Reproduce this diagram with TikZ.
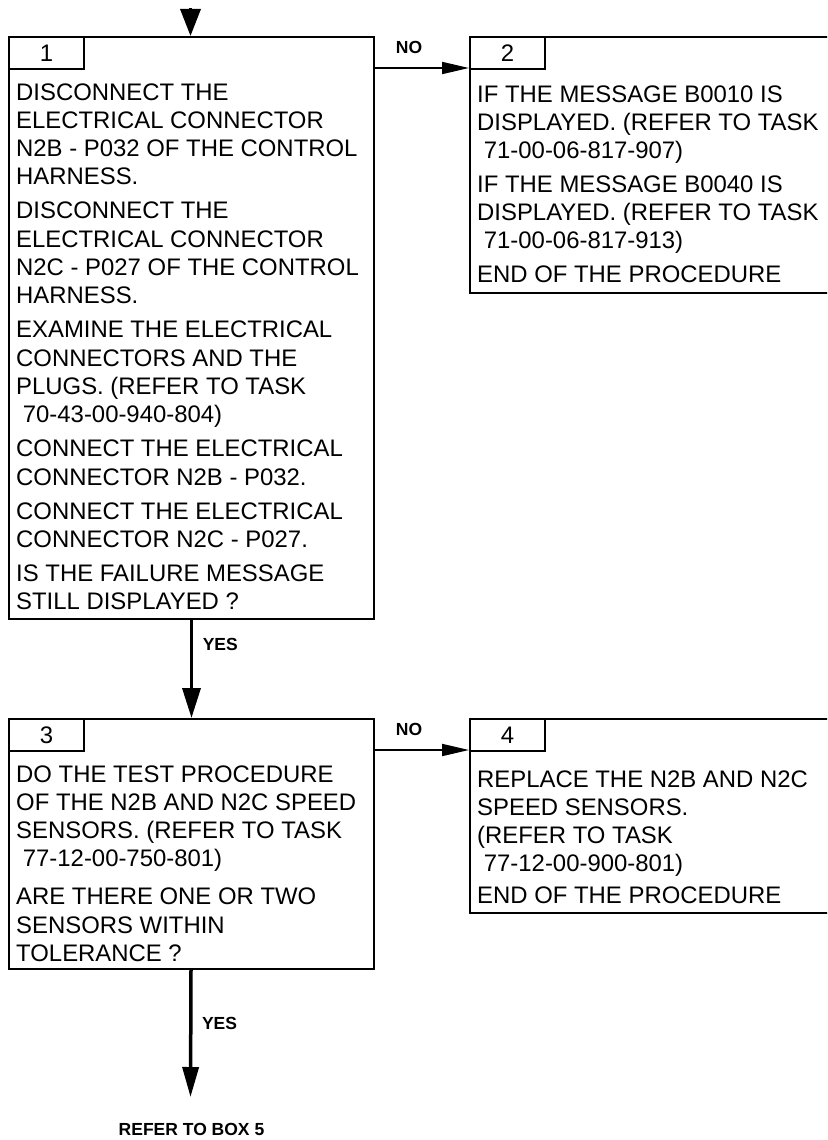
\documentclass[tikz,border=0pt]{standalone}
\usepackage{fontspec}
\setmainfont{Liberation Sans}
\usetikzlibrary{arrows.meta}
\newcommand\bodyfont{\fontsize{23.9}{28.3}\selectfont}
\newcommand\tagfont{\fontsize{17.5}{20}\selectfont\bfseries}
\newcommand\ind{\hspace*{0.28em}}
\begin{document}
\begin{tikzpicture}[x=1pt,y=-1pt,
  box/.style={draw, line width=2pt, rectangle, inner sep=0pt, anchor=north west},
  cell/.style={draw, line width=2pt, rectangle, inner sep=0pt, anchor=north west,
    minimum width=75pt, minimum height=32pt, font=\bodyfont},
  body/.style={anchor=base west, inner sep=0pt, font=\bodyfont},
  tag/.style={inner sep=0pt, font=\tagfont},
  flow/.style={line width=3.5pt, -{Triangle[length=30pt,width=18pt]}},
  side/.style={line width=1.8pt, -{Triangle[length=27pt,width=12pt]}},
]
\useasboundingbox (0,0) rectangle (827,1140);
\clip (0,0) rectangle (827,1140);

% step boxes
\node[box, minimum width=365pt, minimum height=582pt] (b1) at (8,36) {};
\node[box, minimum width=380pt, minimum height=256pt] (b2) at (469,36) {};
\node[box, minimum width=365pt, minimum height=250pt] (b3) at (8,718) {};
\node[box, minimum width=380pt, minimum height=194pt] (b4) at (469,718) {};

% step numbers
\node[cell] (n1) at (8,36) {1};
\node[cell] (n2) at (469,36) {2};
\node[cell] (n3) at (8,718) {3};
\node[cell] (n4) at (469,718) {4};

% step texts
\node[body] (t1) at (16,100) {\begin{tabular}[t]{@{}l@{}}
DISCONNECT THE\\
ELECTRICAL CONNECTOR\\
N2B - P032 OF THE CONTROL\\
HARNESS.\\[5.7pt]
DISCONNECT THE\\
ELECTRICAL CONNECTOR\\
N2C - P027 OF THE CONTROL\\
HARNESS.\\[5.7pt]
EXAMINE THE ELECTRICAL\\
CONNECTORS AND THE\\
PLUGS. (REFER TO TASK\\
\ind 70-43-00-940-804)\\[5.7pt]
CONNECT THE ELECTRICAL\\
CONNECTOR N2B - P032.\\[5.7pt]
CONNECT THE ELECTRICAL\\
CONNECTOR N2C - P027.\\[5.7pt]
IS THE FAILURE MESSAGE\\
STILL DISPLAYED ?
\end{tabular}};

\node[body] (t2) at (477,102) {\begin{tabular}[t]{@{}l@{}}
IF THE MESSAGE B0010 IS\\
DISPLAYED. (REFER TO TASK\\
\ind 71-00-06-817-907)\\[5.2pt]
IF THE MESSAGE B0040 IS\\
DISPLAYED. (REFER TO TASK\\
\ind 71-00-06-817-913)\\[5.2pt]
END OF THE PROCEDURE
\end{tabular}};

\node[body] (t3) at (16,782) {\begin{tabular}[t]{@{}l@{}}
DO THE TEST PROCEDURE\\
OF THE N2B AND N2C SPEED\\
SENSORS. (REFER TO TASK\\
\ind 77-12-00-750-801)\\[9.7pt]
ARE THERE ONE OR TWO\\
SENSORS WITHIN\\
TOLERANCE ?
\end{tabular}};

\node[body] (t4) at (477,787) {\begin{tabular}[t]{@{}l@{}}
REPLACE THE N2B AND N2C\\
SPEED SENSORS.\\
(REFER TO TASK\\
\ind 77-12-00-900-801)\\[3pt]
END OF THE PROCEDURE
\end{tabular}};

% connectors
\coordinate (entry) at (190.5,8);
\draw[line width=3.5pt, -{Triangle[length=27pt,width=20pt]}] (entry) -- (entry |- b1.north);

\coordinate (no1) at ([yshift=2pt]n2.south west);
\draw[side] (b1.east |- no1) -- (no1);
\node[tag] (lno1) at (409,47) {NO};

\draw[flow] (b1) -- node[tag, pos=0.25, anchor=west, xshift=9.5pt] (lyes1) {YES} (b3);

\coordinate (no2) at ([yshift=2pt]n4.south west);
\draw[side] (b3.east |- no2) -- (no2);
\node[tag] (lno2) at (409,729) {NO};

\coordinate (exit) at (190.5,1097);
\draw[line width=3.5pt, -{Triangle[length=30pt,width=16pt]}] (b3) -- node[tag, pos=0.42, anchor=west, xshift=9.5pt] (lyes2) {YES} (exit);
\node[tag] (refer) at (191.5,1129) {REFER TO BOX 5};
\end{tikzpicture}
\end{document}
